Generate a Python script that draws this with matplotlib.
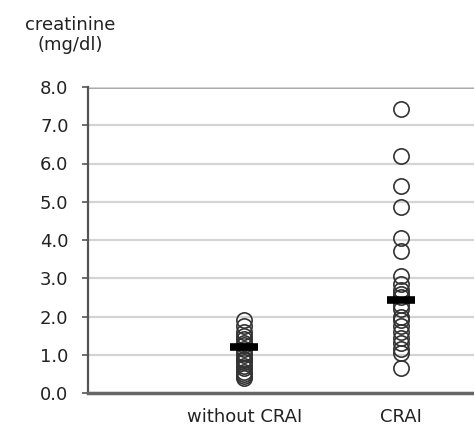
import matplotlib.pyplot as plt

groups = ["without CRAI", "CRAI"]
without_crai = [1.9, 1.75, 1.6, 1.5, 1.4, 1.3, 1.25, 1.15, 1.05, 1.0,
                0.9, 0.85, 0.8, 0.7, 0.65, 0.55, 0.5, 0.45, 0.4]
crai = [7.43, 6.2, 5.4, 4.85, 4.05, 3.72, 3.05, 2.85, 2.7, 2.6, 2.5,
        2.3, 2.2, 2.0, 1.9, 1.75, 1.6, 1.45, 1.3, 1.15, 1.05, 0.65]
means = [1.2, 2.43]
yticks = [0, 1, 2, 3, 4, 5, 6, 7, 8]

fs = 13
fig = plt.figure(figsize=(4.74, 4.30), dpi=100)
ax = fig.add_axes([88/474, 37/430, 1 - 88/474, 306/430])

for i, vals in enumerate([without_crai, crai]):
    ax.plot([i + 1] * len(vals), vals, 'o', ms=11, mfc='none',
            mec='#333333', mew=1.2, zorder=3)
    ax.plot(i + 1, means[i], marker='_', ms=20, mew=5.5, color='black', zorder=4)

ax.set_xlim(0, 2.47)
ax.set_ylim(0, 8)
ax.set_yticks(yticks)
ax.set_yticklabels(["%.1f" % v for v in yticks], fontsize=fs, color='#222222')
ax.set_xticks([1, 2])
ax.set_xticklabels(groups, fontsize=fs, color='#222222')
ax.tick_params(axis='x', length=0, pad=11)
ax.tick_params(axis='y', length=4, width=1.2, color='#555555', pad=10)

ax.grid(axis='y', color='#d4d4d4', lw=1.6, zorder=0)
ax.axhline(8, color='#888888', lw=1.8, zorder=1)
for s in ['top', 'right']:
    ax.spines[s].set_visible(False)
ax.spines['left'].set_color('#555555')
ax.spines['left'].set_linewidth(1.6)
ax.spines['bottom'].set_color('#666666')
ax.spines['bottom'].set_linewidth(2.5)

fig.text(70/474, 1 - 35/430, "creatinine\n(mg/dl)", ha='center', va='center',
         fontsize=fs, color='#222222', linespacing=1.2)

fig.savefig("out.png", dpi=100)
